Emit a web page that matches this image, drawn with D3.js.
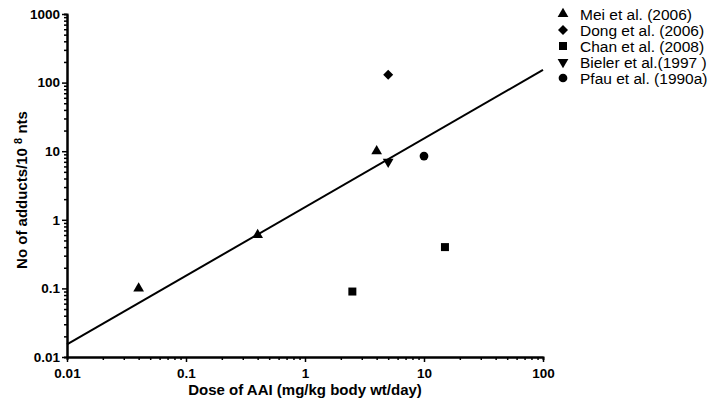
<!DOCTYPE html>
<html>
<head>
<meta charset="utf-8">
<script src="https://cdn.jsdelivr.net/npm/d3@7"></script>
<style>
  body { margin: 0; background: #fff; }
  svg { display: block; font-family: Arial, "Liberation Sans", sans-serif; }
</style>
</head>
<body>
<svg id="chart" width="709" height="402"></svg>
<script>
// Data (dose mg/kg/day, adducts per 10^8 nts)
var studies = ["Mei et al. (2006)", "Dong et al. (2006)", "Chan et al. (2008)", "Bieler et al.(1997 )", "Pfau et al. (1990a)"];
var meiDose = [0.04, 0.4, 4];
var meiAdducts = [0.1, 0.6, 10];
var dongDose = [5];
var dongAdducts = [130];
var chanDose = [2.5, 15];
var chanAdducts = [0.09, 0.4];
var bielerDose = [5];
var bielerAdducts = [7];
var pfauDose = [10];
var pfauAdducts = [8.5];
// fitted line end points
var fitDose = [0.01, 100];
var fitAdducts = [0.0153, 153];
var xTicks = [0.01, 0.1, 1, 10, 100];
var yTicks = [0.01, 0.1, 1, 10, 100, 1000];

var svg = d3.select("#chart");

var x = d3.scaleLog().domain([0.01, 100]).range([67, 543]);
var y = d3.scaleLog().domain([0.01, 1000]).range([357, 14]);

// minor ticks 2..9 of every decade
function minors(majors) {
    var out = [];
    for (var i = 0; i < majors.length - 1; i++) {
        for (var k = 2; k <= 9; k++) out.push(majors[i] * k);
    }
    return out;
}

var fmt = function(d) { return String(+d.toPrecision(3)); };

// x axis
var xAxisG = svg.append("g").attr("transform", "translate(0," + 357 + ")");
xAxisG.call(d3.axisBottom(x).tickValues(minors(xTicks)).tickSize(3).tickFormat(""));
xAxisG.append("g").call(d3.axisBottom(x).tickValues(xTicks).tickSize(5).tickSizeOuter(0).tickPadding(6).tickFormat(fmt));
xAxisG.selectAll(".domain").attr("stroke-width", 2);
xAxisG.selectAll(".tick line").attr("stroke-width", 1.5);
xAxisG.selectAll("text")
    .attr("font-size", 13.5).attr("font-weight", "bold").attr("fill", "#000")
    .attr("font-family", "Arial, 'Liberation Sans', sans-serif");

// y axis
var yAxisG = svg.append("g").attr("transform", "translate(" + 67 + ",0)");
yAxisG.call(d3.axisLeft(y).tickValues(minors(yTicks)).tickSize(3).tickFormat(""));
yAxisG.append("g").call(d3.axisLeft(y).tickValues(yTicks).tickSize(5).tickSizeOuter(0).tickPadding(2).tickFormat(fmt));
yAxisG.selectAll(".domain").attr("stroke-width", 2);
yAxisG.selectAll(".tick line").attr("stroke-width", 1.5);
yAxisG.selectAll("text")
    .attr("font-size", 13.5).attr("font-weight", "bold").attr("fill", "#000")
    .attr("font-family", "Arial, 'Liberation Sans', sans-serif");

// axis titles
svg.append("text")
    .attr("x", 305).attr("y", 395)
    .attr("text-anchor", "middle")
    .attr("font-size", 15).attr("font-weight", "bold")
    .text("Dose of AAI (mg/kg body wt/day)");

var yTitle = svg.append("text")
    .attr("transform", "translate(27,190) rotate(-90)")
    .attr("text-anchor", "middle")
    .attr("font-size", 15).attr("font-weight", "bold");
yTitle.append("tspan").text("No of adducts/10 ");
yTitle.append("tspan").attr("font-size", 11).attr("dy", -5).text("8");
yTitle.append("tspan").attr("dy", 5).text(" nts");

// regression line
var fit = fitDose.map(function(d, i) { return { x: d, y: fitAdducts[i] }; });
svg.append("path")
    .datum(fit)
    .attr("fill", "none")
    .attr("stroke", "#000")
    .attr("stroke-width", 2)
    .attr("d", d3.line().x(function(d) { return x(d.x); }).y(function(d) { return y(d.y); }));

// symbols per study
var shapes = [
    { type: d3.symbolTriangle, size: 50, rot: 0 },
    { type: d3.symbolSquare, size: 50, rot: 45 },
    { type: d3.symbolSquare, size: 64, rot: 0 },
    { type: d3.symbolTriangle, size: 50, rot: 180 },
    { type: d3.symbolCircle, size: 60, rot: 0 }
];
var doses = [meiDose, dongDose, chanDose, bielerDose, pfauDose];
var adducts = [meiAdducts, dongAdducts, chanAdducts, bielerAdducts, pfauAdducts];

var points = [];
studies.forEach(function(s, i) {
    doses[i].forEach(function(d, j) {
        points.push({ study: i, x: d, y: adducts[i][j] });
    });
});

svg.append("g").selectAll("path")
    .data(points)
    .enter().append("path")
    .attr("transform", function(d) {
        return "translate(" + x(d.x) + "," + y(d.y) + ") rotate(" + shapes[d.study].rot + ")";
    })
    .attr("d", function(d) { return d3.symbol().type(shapes[d.study].type).size(shapes[d.study].size)(); })
    .attr("fill", "#000");

// legend
var legend = svg.append("g").attr("transform", "translate(563,14)");
legend.selectAll("g")
    .data(studies)
    .enter().append("g")
    .attr("transform", function(d, i) { return "translate(0," + i * 16 + ")"; })
    .each(function(d, i) {
        var g = d3.select(this);
        g.append("path")
            .attr("transform", "rotate(" + shapes[i].rot + ")")
            .attr("d", d3.symbol().type(shapes[i].type).size(shapes[i].size)())
            .attr("fill", "#000");
        g.append("text")
            .attr("x", 17).attr("y", 5.5)
            .attr("font-size", 15.5)
            .text(d);
    });
</script>
</body>
</html>
